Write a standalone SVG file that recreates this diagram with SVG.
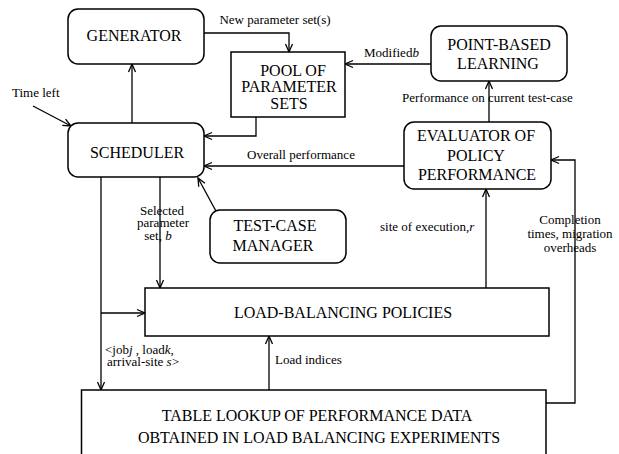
<svg xmlns="http://www.w3.org/2000/svg" width="619" height="454" viewBox="0 0 619 454" font-family="Liberation Serif, Times New Roman, Times, serif">
<style>
.box{fill:#fff;stroke:#000;stroke-width:1.5}
.t{font-size:16px;fill:#000;text-anchor:middle}
.l{font-size:13px;fill:#000}
.c{text-anchor:middle}
.e{fill:none;stroke:#000;stroke-width:1.3}
</style>
<defs>
<marker id="ah" viewBox="-10 -5 12 10" refX="0" refY="0" markerWidth="12" markerHeight="10" markerUnits="userSpaceOnUse" orient="auto">
<path d="M-8,-3.5 L0,0 L-8,3.5" fill="none" stroke="#000" stroke-width="1.3"/>
</marker>
</defs>
<rect width="619" height="454" fill="#fff"/>
<g id="connectors">
<polyline class="e" points="204,33 289,33 289,52" marker-end="url(#ah)"/>
<line class="e" x1="132" y1="123" x2="132" y2="64" marker-end="url(#ah)"/>
<line class="e" x1="33" y1="106" x2="71" y2="126" marker-end="url(#ah)"/>
<polyline class="e" points="256,117 256,136 204,136" marker-end="url(#ah)"/>
<line class="e" x1="404" y1="166" x2="204" y2="166" marker-end="url(#ah)"/>
<line class="e" x1="431" y1="64" x2="345" y2="64" marker-end="url(#ah)"/>
<line class="e" x1="489" y1="122" x2="489" y2="81" marker-end="url(#ah)"/>
<line class="e" x1="486" y1="288" x2="486" y2="189" marker-end="url(#ah)"/>
<polyline class="e" points="546,403 575,403 575,160 551,160" marker-end="url(#ah)"/>
<line class="e" x1="217" y1="213" x2="198" y2="178" marker-end="url(#ah)"/>
<line class="e" x1="160" y1="177" x2="160" y2="288" marker-end="url(#ah)"/>
<line class="e" x1="101" y1="177" x2="101" y2="390" marker-end="url(#ah)"/>
<line class="e" x1="101" y1="313" x2="145" y2="313" marker-end="url(#ah)"/>
<line class="e" x1="269" y1="390" x2="269" y2="336" marker-end="url(#ah)"/>
<text class="l c" x="275" y="24">New parameter set(s)</text>
<text class="l" x="12" y="97">Time left</text>
<text class="l" x="364" y="57">Modified<tspan font-style="italic">b</tspan></text>
<text class="l" x="402" y="102">Performance on  current test-case</text>
<text class="l" x="247" y="159">Overall performance</text>
<text class="l c" x="162" y="214.5">Selected</text>
<text class="l c" x="163" y="227">parameter</text>
<text class="l c" x="158" y="240">set,  <tspan font-style="italic">b</tspan></text>
<text class="l" x="380" y="231">site of execution,<tspan font-style="italic">r</tspan></text>
<text class="l c" x="570" y="224">Completion</text>
<text class="l c" x="570" y="238">times, migration</text>
<text class="l c" x="570" y="252">overheads</text>
<text class="l" x="105" y="354">&lt;job<tspan font-style="italic">j</tspan> , load<tspan font-style="italic">k</tspan>,</text>
<text class="l" x="107" y="366">arrival-site  <tspan font-style="italic">s</tspan>&gt;</text>
<text class="l" x="275" y="364">Load indices</text>
</g>
<g id="generator">
<rect class="box" x="68" y="9" width="136" height="55" rx="10"/>
<text class="t" x="134" y="41">GENERATOR</text>
</g>
<g id="pool">
<rect class="box" x="231" y="52" width="114" height="65"/>
<text class="t" x="293" y="76">POOL OF</text>
<text class="t" x="289" y="92">PARAMETER</text>
<text class="t" x="289" y="109">SETS</text>
</g>
<g id="point-based-learning">
<rect class="box" x="431" y="26" width="136" height="55" rx="10"/>
<text class="t" x="499" y="50">POINT-BASED</text>
<text class="t" x="498" y="69">LEARNING</text>
</g>
<g id="scheduler">
<rect class="box" x="68" y="123" width="136" height="54" rx="10"/>
<text class="t" x="137" y="158">SCHEDULER</text>
</g>
<g id="evaluator">
<rect class="box" x="404" y="122" width="147" height="67" rx="10"/>
<text class="t" x="476" y="141">EVALUATOR OF</text>
<text class="t" x="476" y="161">POLICY</text>
<text class="t" x="477" y="180">PERFORMANCE</text>
</g>
<g id="test-case-manager">
<rect class="box" x="210" y="210" width="136" height="53" rx="10"/>
<text class="t" x="275" y="231">TEST-CASE</text>
<text class="t" x="273" y="251">MANAGER</text>
</g>
<g id="load-balancing-policies">
<rect class="box" x="145" y="288" width="404" height="48"/>
<text class="t" x="343" y="318">LOAD-BALANCING POLICIES</text>
</g>
<g id="table-lookup">
<rect class="box" x="81.5" y="390" width="464.5" height="80"/>
<text class="t" x="317" y="421">TABLE LOOKUP OF PERFORMANCE DATA</text>
<text class="t" x="319" y="443">OBTAINED IN LOAD BALANCING EXPERIMENTS</text>
</g>
</svg>
